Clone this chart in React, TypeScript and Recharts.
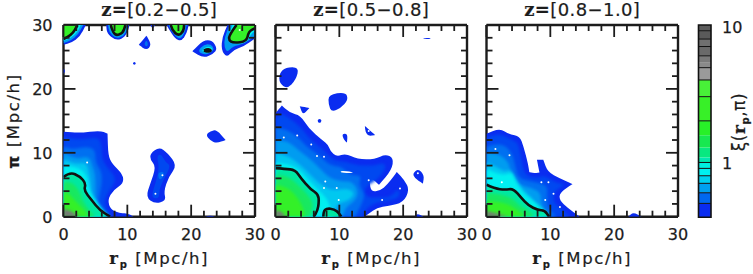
import { ReferenceArea, ReferenceLine, Scatter, ScatterChart, XAxis, YAxis } from "recharts";

type Pt = [number, number];

const INK = "#1c1c1c";
const FONT = "'DejaVu Sans', sans-serif";
const LEVEL_COLORS = ["#0a2cf0", "#0048f0", "#0070f0", "#009cf0", "#00c8f0", "#00f0f0", "#00e8a0", "#18e860", "#34f028", "#777777"];
const AXIS_TICKS = [0, 2, 4, 6, 8, 10, 12, 14, 16, 18, 20, 22, 24, 26, 28, 30];
const TITLES = ["[0.2\u22120.5]", "[0.5\u22120.8]", "[0.8\u22121.0]"];

// panel 1, z=0.2-0.5
const P1_MAIN_0: Pt[] = [[0, 13.3], [2.6, 13.1], [5.7, 13.5], [6.9, 13], [6.9, 13], [7, 9.6], [7.6, 8.3], [9.3, 6.6], [9.4, 5.2], [7.8, 4.2], [6.9, 2.6], [7.4, 1.1], [8.9, 0.5], [9.9, 0.6], [11, 0], [0, 0]];
const P1_MAIN_1: Pt[] = [[0, 12.5], [2.5, 12], [5.5, 12.5], [6, 11], [6, 9], [7, 7.5], [8.3, 6], [7.5, 4.5], [6.5, 3], [6.5, 1.5], [7.5, 0.3], [7.5, 0], [0, 0]];
const P1_MAIN_2: Pt[] = [[0, 11], [1.5, 10.5], [3.5, 11], [5, 10.5], [5, 8.5], [6, 7], [6, 5], [5.5, 3], [5.5, 1], [6.5, 0], [0, 0]];
const P1_MAIN_3: Pt[] = [[0, 10], [2, 9], [4, 9.5], [4.5, 8], [5, 6.5], [5, 4.5], [5, 2.5], [5.5, 0.5], [6, 0], [0, 0]];
const P1_MAIN_4: Pt[] = [[0, 9], [2, 8.2], [3.5, 8.5], [4, 7], [4.3, 5], [4.3, 3.2], [5.3, 1.3], [6.2, 0], [0, 0]];
const P1_MAIN_5: Pt[] = [[0, 8], [1.5, 7.9], [3, 7.3], [3.8, 6], [3.9, 4.5], [4.7, 3], [6, 1.4], [7, 0], [0, 0]];
const P1_MAIN_6: Pt[] = [[0, 6.2], [1, 7], [2.6, 6.3], [3.5, 5.2], [3.2, 4.1], [4.4, 2.6], [5.7, 1], [7.3, 0], [0, 0]];
const P1_MAIN_7: Pt[] = [[0, 5.5], [1.5, 5.3], [2.5, 4], [3, 2.5], [4, 1], [5, 0], [0, 0]];
const P1_MAIN_8: Pt[] = [[0, 4], [1, 3.5], [2, 2.3], [3.5, 0.8], [4, 0], [0, 0]];
const P1_MAIN_9: Pt[] = [[0, 1.2], [1, 1], [2, 0.3], [2.7, 0], [0, 0]];
const P1_MID_0: Pt[] = [[13.6, 9.9], [15, 10.9], [16.3, 10], [17.8, 8], [16.5, 6.3], [15.7, 3.9], [16.1, 2.5], [14.3, 2], [12.9, 3.1], [13.6, 5.2], [14.5, 7.8], [13.6, 8.9]];
const P1_MID_1: Pt[] = [[14.6, 9.5], [15.3, 9.8], [16, 8.5], [16.8, 8], [15.8, 6], [15, 4.3], [15, 3], [14.2, 2.8], [13.8, 3.4], [14.5, 5.5], [15, 7.8]];
const P1_MID_2: Pt[] = [[15, 7], [15.8, 7], [15.5, 6], [15, 5.8], [14.8, 6.5]];
const P1_RIGHT_0: Pt[] = [[22.3, 12.8], [23, 13.4], [24, 13.6], [25.4, 12], [25.4, 12], [24, 11.5], [23, 11.9]];
const P1_A_0: Pt[] = [[0, 26.9], [1.2, 27.2], [2.6, 28.2], [3.5, 30], [0, 30]];
const P1_A_3: Pt[] = [[0, 27.2], [1.1, 27.5], [2.3, 28.5], [3.1, 30], [0, 30]];
const P1_A_5: Pt[] = [[0, 27.5], [1.2, 28], [2.2, 28.9], [2.7, 30], [0, 30]];
const P1_A_8: Pt[] = [[0, 27.8], [1.3, 28.4], [2.2, 30], [0, 30]];
const P1_B_0: Pt[] = [[6.7, 30], [6.8, 28.7], [8.1, 27.6], [9.4, 27.9], [10.2, 29.2], [10.3, 30]];
const P1_B_3: Pt[] = [[7, 30], [7.1, 29], [8.1, 27.9], [9.4, 28.2], [10, 29.3], [10.1, 30]];
const P1_B_5: Pt[] = [[7.2, 30], [7.3, 29.3], [8.1, 28.1], [9.4, 28.5], [9.9, 30]];
const P1_B_8: Pt[] = [[7.4, 30], [7.5, 29.5], [8.1, 28.3], [9.3, 28.7], [9.7, 30]];
const P1_C_0: Pt[] = [[16.2, 30], [16.3, 29.7], [17.5, 27.8], [18.5, 27.5], [19.3, 28.7], [19.6, 30]];
const P1_C_3: Pt[] = [[16.5, 30], [16.6, 29.6], [17.6, 28.1], [18.4, 27.8], [19, 28.8], [19.3, 30]];
const P1_C_8: Pt[] = [[16.8, 30], [17, 29.2], [18, 28.3], [18.8, 29], [18.9, 30]];
const P1_D_0: Pt[] = [[11.8, 26.9], [11.8, 26.9], [13, 28.3], [13, 28.3], [13.8, 26.9], [13, 26]];
const P1_D_2: Pt[] = [[12.6, 27], [13, 27.7], [13.3, 26.9], [13, 26.6]];
const P1_E_0: Pt[] = [[20.2, 25.9], [20.2, 25.9], [21.9, 27.6], [23.3, 27.6], [24.1, 26.3], [23.5, 25.5], [21.9, 24.8]];
const P1_E_3: Pt[] = [[21, 25.9], [22, 27], [23.1, 27], [23.6, 26.3], [23.2, 25.7], [22, 25.3]];
const P1_E_5: Pt[] = [[21.6, 26], [22.3, 26.6], [23.1, 26.6], [23.4, 26.1], [22.9, 25.6], [22.2, 25.6]];
const P1_F_0: Pt[] = [[25.7, 30], [24.9, 28.2], [24.7, 26.1], [25.6, 24.9], [26.6, 26.1], [28.2, 26.6], [30, 27.9], [30, 30]];
const P1_F_3: Pt[] = [[26, 30], [25.2, 28], [25.2, 26.5], [25.7, 25.7], [26.5, 26.7], [28.3, 27], [30, 28.3], [30, 30]];
const P1_F_5: Pt[] = [[26.5, 30], [25.6, 27.9], [26.4, 27.1], [28.6, 27.1], [29.3, 28.5], [30, 29.1], [30, 30]];
const P1_F_8: Pt[] = [[27.1, 30], [26, 28.5], [25.9, 27.6], [26.6, 27.2], [28.7, 27.4], [29, 29], [30, 29.5], [30, 30]];
const P1_SPECK_A: Pt[] = [[13.6, 30], [14.3, 30], [14, 29.4]];
const P1_SPECK_B: Pt[] = [[0, 23.2], [0.3, 22.8], [0, 22.3]];
const P1_SPECK_C: Pt[] = [[22.2, 0], [23, 0.2], [23.7, 0]];
const P1_SPECK_D: Pt[] = [[10.8, 24], [11.1, 24.3], [11.4, 24], [11.1, 23.7]];
const P1_LINES: Pt[][] = [
  [[0, 6.2], [1, 7], [2.6, 6.3], [3.5, 5.2], [3.2, 4.1], [4.4, 2.6], [5.7, 1], [7.3, 0]],
  [[0, 27.8], [1.3, 28.4], [2.2, 30]],
  [[7.4, 30], [7.5, 29.5], [8.1, 28.3], [9.3, 28.7], [9.7, 30]],
  [[16.8, 30], [17, 29.2], [18, 28.3], [18.8, 29], [18.9, 30]],
  [[22, 26], [22.6, 26.3], [23.2, 26], [22.6, 25.8], [22, 26]],
  [[27.1, 30], [26, 28.5], [25.9, 27.6], [26.6, 27.2], [28.7, 27.4], [29, 29], [30, 29.5]],
];
const P1_HOLES: Pt[] = [[3.7, 8.5], [15.5, 6.5], [14.4, 3.6], [27.6, 29.2]];

// panel 2, z=0.5-0.8
const P2_MAIN_0: Pt[] = [[0, 16.2], [1, 17.4], [1, 17.4], [2.3, 16.2], [3.9, 15.9], [5.2, 13.8], [7.3, 12], [8.3, 11.2], [8.6, 10.2], [9.6, 9.4], [11, 9.9], [12.8, 9], [15.6, 9], [17.2, 9.8], [18.5, 9.2], [18.2, 7.3], [16.2, 5], [16.2, 5], [15.1, 6], [14.7, 5.5], [15, 3.9], [16.4, 4.1], [17.5, 5], [18.5, 6.3], [19, 7], [19, 7], [20.2, 5.7], [21, 4.2], [20, 2.2], [17.7, 1.7], [15.9, 1.4], [14.6, 0.5], [14, 0], [0, 0]];
const P2_MAIN_1: Pt[] = [[0, 15.5], [1, 16.2], [2.5, 15.2], [4, 14], [5.5, 12], [7.5, 10.5], [9, 8.8], [11, 8.6], [13, 8], [15.5, 8], [17, 8.5], [17.3, 7.5], [16, 5.8], [14.5, 5], [13.8, 4], [14.5, 3], [16, 3], [18, 3], [19.3, 4.5], [19.5, 3], [17.5, 2.5], [15, 2], [13.5, 0.2], [14, 0], [0, 0]];
const P2_MAIN_2: Pt[] = [[0, 14], [2, 13.5], [3.5, 12.5], [5, 10.8], [7, 9.5], [8.5, 8], [10.5, 7.8], [11.5, 6.5], [13.5, 6.5], [13, 5], [14, 3.5], [13.5, 2], [12.5, 0], [0, 0]];
const P2_MAIN_3: Pt[] = [[0, 12], [2, 11.8], [3.5, 10.5], [5.5, 9], [7, 7.5], [8.5, 6], [10.5, 5.5], [12, 5.5], [13, 4], [12.5, 2.5], [11, 1.5], [10.5, 0], [0, 0]];
const P2_MAIN_4: Pt[] = [[0, 10], [2, 9.5], [3.8, 8.2], [5.5, 6.5], [7, 5], [9, 4], [11, 4.5], [12.5, 3.8], [11.5, 2.5], [9.5, 2], [9, 0], [0, 0]];
const P2_MAIN_5: Pt[] = [[0, 8.5], [3, 8], [4.5, 6.5], [6, 4.8], [7.8, 3.2], [8.5, 1.8], [9, 0], [0, 0]];
const P2_MAIN_6: Pt[] = [[0, 7.6], [1.5, 7.5], [3.1, 7.3], [4, 6], [5.5, 4.3], [6.7, 3.5], [6.8, 2.3], [6.6, 1], [6, 0], [0, 0]];
const P2_MAIN_7: Pt[] = [[0, 6.5], [2, 6.3], [3.5, 5], [5, 3.5], [6, 2], [5.3, 0], [0, 0]];
const P2_MAIN_8: Pt[] = [[0, 5], [2, 4.5], [3.5, 3], [4.5, 1], [4.5, 0], [0, 0]];
const P2_MAIN_9: Pt[] = [[0, 0.9], [0.5, 1], [1.2, 0.5], [1.6, 0], [0, 0]];
const P2_LOOP_6: Pt[] = [[7.5, 0], [7.5, 0.8], [8, 1.3], [9.2, 1.2], [10, 0.5], [10.3, 0]];
const P2_BLOB_A: Pt[] = [[0.6, 22.4], [1.6, 23.4], [3.7, 23.4], [3.2, 21.4], [1.8, 20], [0.6, 20.9]];
const P2_BLOB_B: Pt[] = [[8.3, 19.1], [11, 19.5], [11.4, 18.3], [10.2, 17], [8.8, 16.4], [8.3, 17.5]];
const P2_BLOB_C: Pt[] = [[3.8, 17.3], [3.8, 17.3], [5.3, 17], [5.3, 17], [4.3, 15.9]];
const P2_BLOB_D: Pt[] = [[6.5, 15], [6.9, 15.4], [7.3, 15], [6.9, 14.6]];
const P2_BLOB_E: Pt[] = [[10.4, 13], [11.3, 13], [11.2, 11.6], [11.2, 11.6], [10.7, 12]];
const P2_BLOB_F: Pt[] = [[14, 14.2], [14, 14.2], [15.6, 12.8], [15.6, 12.8], [14.6, 12.6], [14.1, 13.2]];
const P2_BLOB_G: Pt[] = [[23.1, 27.9], [24.3, 28], [24.3, 27.8], [23.2, 27.8]];
const P2_BLOB_H: Pt[] = [[21.5, 6.8], [22.4, 7.5], [23.3, 6.5], [23.1, 5.2], [23.1, 5.2], [21.8, 6]];
const P2_BLOB_I: Pt[] = [[21.9, 0], [22.2, 0.5], [23.2, 0]];
const P2_SLIT: Pt[] = [[10.2, 7.2], [12.1, 7], [12.1, 6.8], [10.2, 6.9]];
const P2_LINES: Pt[][] = [
  [[0, 7.6], [1.5, 7.5], [3.1, 7.3], [4, 6], [5.5, 4.3], [6.7, 3.5], [6.8, 2.3], [6.6, 1], [6, 0]],
  [[7.5, 0], [7.5, 0.8], [8, 1.3], [9.2, 1.2], [10, 0.5], [10.3, 0]],
];
const P2_HOLES: Pt[] = [[1.3, 12.4], [3.4, 12.7], [5.6, 11.3], [6.5, 9.5], [7.6, 9.4], [7.8, 5.5], [9.6, 4.5], [7.6, 4.5], [16.7, 2.6], [19.5, 4.4], [14.6, 5.7], [9.9, 2.6], [22.3, 6.8], [14.6, 13.4]];

// panel 3, z=0.8-1.0
const P3_MAIN_0: Pt[] = [[0, 13], [2.1, 13.8], [3.6, 12.9], [5.2, 12.6], [5.8, 11], [6.5, 8.3], [6.7, 7], [6.7, 7], [7.3, 6.8], [8.3, 6.9], [8.3, 6.9], [7.9, 8.9], [7.9, 8.9], [8.9, 8.9], [8.9, 8.9], [9.6, 7], [11.5, 6], [13.5, 5.1], [13.5, 5.1], [11.5, 3.8], [11.4, 2.6], [12.8, 1.3], [14.6, 0], [0, 0]];
const P3_MAIN_1: Pt[] = [[0, 12.4], [2, 13], [4, 12], [5, 11.5], [5.5, 8.5], [6, 6.5], [8, 6], [9, 6.5], [11, 5.2], [12.5, 5.1], [10.5, 4], [10.5, 2.2], [12, 1], [13, 0], [0, 0]];
const P3_MAIN_2: Pt[] = [[0, 11], [2.5, 11.5], [4, 10], [4.5, 8], [5, 6], [7, 5.5], [9.5, 5], [9.5, 3.5], [9.5, 1.5], [11, 0], [0, 0]];
const P3_MAIN_3: Pt[] = [[0, 10], [2, 9.8], [3.5, 8.5], [3.8, 6.8], [5, 5], [7, 4.5], [8.5, 3.8], [8.5, 2], [9.5, 0], [0, 0]];
const P3_MAIN_4: Pt[] = [[0, 8.5], [1.5, 7.8], [3, 7], [3.7, 7.5], [4.5, 6], [5.5, 4.5], [6.5, 3.5], [7.5, 2.5], [8, 1], [9, 0], [0, 0]];
const P3_MAIN_5: Pt[] = [[0, 7.5], [1.5, 6.8], [3, 6.5], [4, 7], [4.5, 5.5], [5.5, 4], [6.5, 3], [8, 2], [9, 1], [10, 0], [0, 0]];
const P3_MAIN_6: Pt[] = [[0, 5], [1.3, 4.4], [2.9, 4.2], [4.2, 4.4], [5.5, 2.9], [6.5, 1.8], [8.1, 1], [9.1, 1], [9.8, 0], [0, 0]];
const P3_MAIN_7: Pt[] = [[0, 3.8], [2, 3.5], [4, 3], [5, 1.8], [6.5, 1], [7.5, 0], [0, 0]];
const P3_MAIN_8: Pt[] = [[0, 2.5], [3, 2.2], [5, 1], [6, 0], [0, 0]];
const P3_MAIN_9: Pt[] = [[0, 0.9], [1.5, 0.5], [3.4, 0], [0, 0]];
const P3_BUMP: Pt[] = [[22.2, 0], [23, 0.7], [24.3, 0]];
const P3_LINES: Pt[][] = [[[0, 5], [1.3, 4.4], [2.9, 4.2], [4.2, 4.4], [5.5, 2.9], [6.5, 1.8], [8.1, 1], [9.1, 1], [9.8, 0]]];
const P3_HOLES: Pt[] = [[1.4, 10.6], [3.6, 9.6], [2.4, 5.4], [8.6, 5.4], [9.7, 5.4], [10.5, 3.6], [9.2, 2.6], [11.5, 1.5]];

const P1_FILLS: [number, Pt[]][] = [
  [0, P1_MAIN_0], [1, P1_MAIN_1], [2, P1_MAIN_2], [3, P1_MAIN_3], [4, P1_MAIN_4], [5, P1_MAIN_5], [6, P1_MAIN_6], [7, P1_MAIN_7], [8, P1_MAIN_8], [9, P1_MAIN_9],
  [0, P1_MID_0], [1, P1_MID_1], [2, P1_MID_2], [0, P1_RIGHT_0],
  [0, P1_A_0], [3, P1_A_3], [5, P1_A_5], [8, P1_A_8],
  [0, P1_B_0], [3, P1_B_3], [5, P1_B_5], [8, P1_B_8],
  [0, P1_C_0], [3, P1_C_3], [8, P1_C_8],
  [0, P1_D_0], [2, P1_D_2],
  [0, P1_E_0], [3, P1_E_3], [5, P1_E_5],
  [0, P1_F_0], [3, P1_F_3], [5, P1_F_5], [8, P1_F_8],
  [0, P1_SPECK_A], [0, P1_SPECK_B], [0, P1_SPECK_C], [0, P1_SPECK_D],
];
const P2_FILLS: [number, Pt[]][] = [
  [0, P2_MAIN_0], [1, P2_MAIN_1], [2, P2_MAIN_2], [3, P2_MAIN_3], [4, P2_MAIN_4], [5, P2_MAIN_5], [6, P2_MAIN_6], [7, P2_MAIN_7], [8, P2_MAIN_8], [9, P2_MAIN_9], [6, P2_LOOP_6],
  [0, P2_BLOB_A], [0, P2_BLOB_B], [0, P2_BLOB_C], [0, P2_BLOB_D], [0, P2_BLOB_E], [0, P2_BLOB_F], [0, P2_BLOB_G], [0, P2_BLOB_H], [0, P2_BLOB_I],
];
const P3_FILLS: [number, Pt[]][] = [
  [0, P3_MAIN_0], [1, P3_MAIN_1], [2, P3_MAIN_2], [3, P3_MAIN_3], [4, P3_MAIN_4], [5, P3_MAIN_5], [6, P3_MAIN_6], [7, P3_MAIN_7], [8, P3_MAIN_8], [9, P3_MAIN_9], [0, P3_BUMP],
];
const P2_WHITE: Pt[][] = [P2_SLIT];

// colour bar, xi values
const BAR_EDGES = [0.4, 0.506, 0.605, 0.71, 0.807, 0.914, 1.01, 1.1, 1.3, 1.6, 2.04, 3.07, 4.07, 5.01, 5.5, 6.12, 7.16, 8.12, 9.35, 10.3];
const BAR_COLORS = ["#0a2cf0", "#0068f0", "#00a0f0", "#00d0f0", "#00f0f0", "#00f0e0", "#00e8b0", "#08e880", "#18e850", "#28f028", "#38f028", "#48f038", "#9a9a9a", "#8a8a8a", "#7a7a7a", "#6a6a6a", "#707070", "#5a5a5a", "#5c5c5c"];
const BAR_RULES = [0.506, 0.605, 0.71, 0.807, 0.914, 1.01, 2.04, 3.07, 4.07, 5.01, 6.12, 7.16, 8.12, 9.35];
const BAR_TICKS = [1, 10];
const BAR_ANCHOR = [{ x: 0.5, y: 1 }];

const M = { left: 63.5, top: 25, w: 191.5, h: 191.7 };
const SOFT_FILLS = 10; // the first ten fills of each panel are the nested main contours

const toRows = (pts: Pt[]) => pts.map(([x, y]) => ({ x, y }));

// quadratic spline through the midpoints; vertices on the frame stay sharp
function splinePath(points: { x: number; y: number }[], closed: boolean) {
  const onFrame = (p: { x: number; y: number }) =>
    Math.abs(p.x - M.left) < 0.5 || Math.abs(p.x - M.left - M.w) < 0.5 || Math.abs(p.y - M.top) < 0.5 || Math.abs(p.y - M.top - M.h) < 0.5;
  const mid = (a: { x: number; y: number }, b: { x: number; y: number }) => `${(a.x + b.x) / 2} ${(a.y + b.y) / 2}`;
  const n = points.length;
  if (closed) {
    let d = `M${mid(points[n - 1], points[0])}`;
    points.forEach((p, i) => {
      const next = points[(i + 1) % n];
      d += onFrame(p) ? `L${p.x} ${p.y}L${mid(p, next)}` : `Q${p.x} ${p.y} ${mid(p, next)}`;
    });
    return d + "Z";
  }
  let d = `M${points[0].x} ${points[0].y}`;
  for (let i = 1; i < n - 1; i++) d += `Q${points[i].x} ${points[i].y} ${mid(points[i], points[i + 1])}`;
  return d + `L${points[n - 1].x} ${points[n - 1].y}`;
}

const noDot = () => null;

function XTick({ x, y, payload, dir, labelled }: any) {
  const major = payload.value % 10 === 0;
  return (
    <g>
      <line x1={x} x2={x} y1={y} y2={y + dir * (major ? 12 : 6)} stroke={INK} strokeWidth={1.8} />
      {labelled && major && (
        <text x={x} y={y + 23} textAnchor="middle" fontFamily={FONT} fontSize={16} fill={INK} stroke={INK} strokeWidth={0.25}>
          {payload.value}
        </text>
      )}
    </g>
  );
}

function YTick({ x, y, payload, dir, labelled }: any) {
  const major = payload.value % 10 === 0;
  return (
    <g>
      <line x1={x} x2={x + dir * (major ? 12 : 6)} y1={y} y2={y} stroke={INK} strokeWidth={1.8} />
      {labelled && major && (
        <text x={x - 11} y={y + 6} textAnchor="end" fontFamily={FONT} fontSize={16} fill={INK} stroke={INK} strokeWidth={0.25}>
          {payload.value}
        </text>
      )}
    </g>
  );
}

function Panel({ id, left, title, fills, lines, holes, white = [], yLabels = false }: any) {
  const axisLine = { stroke: INK, strokeWidth: 2.4 };
  const shared = { type: "number" as const, domain: [0, 30], ticks: AXIS_TICKS, interval: 0, tickLine: false, tickSize: 0, tickMargin: 0, axisLine, allowDataOverflow: true };
  return (
    <div style={{ position: "absolute", left, top: 0 }}>
      <ScatterChart width={265} height={274} margin={{ left: M.left - 1, top: M.top - 1, right: 265 - M.left - M.w - 1, bottom: 274 - M.top - M.h - 1 }}>
        <defs>
          <clipPath id={id}>
            <rect x={M.left} y={M.top} width={M.w} height={M.h} />
          </clipPath>
        </defs>
        <XAxis {...shared} dataKey="x" height={1} tick={<XTick dir={-1} labelled />} />
        <XAxis {...shared} dataKey="x" xAxisId="top" orientation="top" height={1} tick={<XTick dir={1} />} />
        <YAxis {...shared} dataKey="y" width={1} tick={<YTick dir={1} labelled={yLabels} />} />
        <YAxis {...shared} dataKey="y" yAxisId="right" orientation="right" width={1} tick={<YTick dir={-1} />} />
        {fills.map(([level, pts]: [number, Pt[]], i: number) => (
          <Scatter
            key={`fill-${i}`}
            data={toRows(pts)}
            shape={noDot}
            isAnimationActive={false}
            line={(p: any) => (
              <g clipPath={`url(#${id})`}>
                <path
                  d={splinePath(p.points, true)}
                  fill={LEVEL_COLORS[level]}
                  stroke="none"
                  style={i > 0 && i < SOFT_FILLS ? { filter: "blur(1.6px)" } : undefined}
                />
              </g>
            )}
          />
        ))}
        {white.map((pts: Pt[], i: number) => (
          <Scatter
            key={`white-${i}`}
            data={toRows(pts)}
            shape={noDot}
            isAnimationActive={false}
            line={(p: any) => <path d={splinePath(p.points, true)} fill="#fff" stroke="none" />}
          />
        ))}
        <Scatter
          data={toRows(holes)}
          isAnimationActive={false}
          shape={(p: any) => <circle cx={p.cx} cy={p.cy} r={1} fill="#fff" />}
        />
        {lines.map((pts: Pt[], i: number) => (
          <Scatter
            key={`line-${i}`}
            data={toRows(pts)}
            shape={noDot}
            isAnimationActive={false}
            line={(p: any) => <path d={splinePath(p.points, false)} fill="none" stroke="#111" strokeWidth={2.6} />}
          />
        ))}
        <text x={M.left + M.w / 2} y={16} textAnchor="middle" fontFamily={FONT} fontSize={18} letterSpacing={0.4} fill={INK} stroke={INK} strokeWidth={0.2}>
          <tspan fontFamily="'DejaVu Serif', serif" fontWeight="bold">z=</tspan>
          {title}
        </text>
        <text x={M.left + M.w / 2} y={264} textAnchor="middle" fontFamily={FONT} fontSize={16.5} letterSpacing={1.6} fill={INK} stroke={INK} strokeWidth={0.2}>
          <tspan fontFamily="'DejaVu Serif', serif" fontWeight="bold">r</tspan>
          <tspan fontSize={10} dy={4} fontWeight="bold">p</tspan>
          <tspan dy={-4}> [Mpc/h]</tspan>
        </text>
        {yLabels && (
          <text transform="translate(19 121) rotate(-90)" textAnchor="middle" fontFamily={FONT} fontSize={16.5} letterSpacing={1.6} fill={INK} stroke={INK} strokeWidth={0.2}>
            <tspan fontWeight="bold">π</tspan> [Mpc/h]
          </text>
        )}
      </ScatterChart>
    </div>
  );
}

function ColorBar() {
  return (
    <div style={{ position: "absolute", left: 690, top: 0 }}>
      <ScatterChart width={63} height={274} margin={{ left: 8.5, top: 25, right: 41, bottom: 56.7 }}>
        <XAxis type="number" dataKey="x" domain={[0, 1]} hide />
        <YAxis
          type="number"
          dataKey="y"
          scale="log"
          domain={[0.4, 10.3]}
          ticks={BAR_TICKS}
          orientation="right"
          width={1}
          interval={0}
          axisLine={false}
          tickLine={false}
          tickSize={0}
          tickMargin={0}
          allowDataOverflow
          tick={({ x, y, payload }: any) => (
            <text x={x + 11} y={y + 6} fontFamily={FONT} fontSize={16} fill={INK} stroke={INK} strokeWidth={0.25}>
              {payload.value}
            </text>
          )}
        />
        <Scatter data={BAR_ANCHOR} shape={noDot} isAnimationActive={false} />
        {BAR_COLORS.map((color, i) => (
          <ReferenceArea key={color + i} x1={0} x2={1} y1={BAR_EDGES[i]} y2={BAR_EDGES[i + 1]} fill={color} fillOpacity={1} stroke="none" />
        ))}
        {BAR_RULES.map((v) => (
          <ReferenceLine key={v} y={v} stroke="#111" strokeWidth={1} />
        ))}
        <ReferenceArea x1={0} x2={1} y1={0.4} y2={10.3} fill="none" stroke="#111" strokeWidth={1.6} />
        <text transform="translate(55 122) rotate(-90)" textAnchor="middle" fontFamily={FONT} fontSize={17} letterSpacing={0.6} fill={INK} stroke={INK} strokeWidth={0.2}>
          ξ(<tspan fontFamily="'DejaVu Serif', serif" fontWeight="bold">r</tspan>
          <tspan fontSize={10} dy={4} fontWeight="bold">p</tspan>
          <tspan dy={-4}>,π)</tspan>
        </text>
      </ScatterChart>
    </div>
  );
}

export default function App() {
  return (
    <div style={{ position: "absolute", left: 0, top: 0, width: 753, height: 274, overflow: "hidden", background: "#fff" }}>
      <Panel id="clip-a" left={0} title={TITLES[0]} fills={P1_FILLS} lines={P1_LINES} holes={P1_HOLES} yLabels />
      <Panel id="clip-b" left={211.7} title={TITLES[1]} fills={P2_FILLS} lines={P2_LINES} holes={P2_HOLES} white={P2_WHITE} />
      <Panel id="clip-c" left={423.2} title={TITLES[2]} fills={P3_FILLS} lines={P3_LINES} holes={P3_HOLES} />
      <ColorBar />
    </div>
  );
}
